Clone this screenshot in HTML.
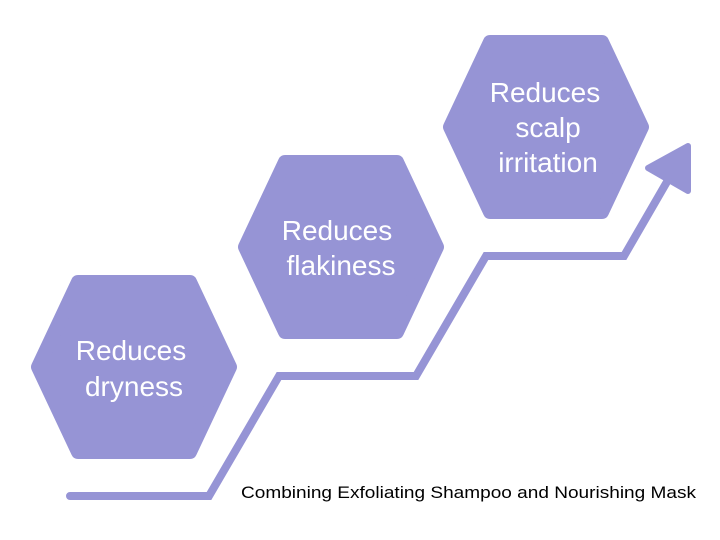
<!DOCTYPE html>
<html><head><style>
body{margin:0;background:#fff;}
svg{display:block;}
text{font-family:"Liberation Sans",sans-serif;}
</style></head><body>
<svg width="720" height="540" viewBox="0 0 720 540">
<g fill="#9694d5" stroke="#9694d5" stroke-width="14" stroke-linejoin="round">
<polygon points="78,282 190,282 230,367 190,452 78,452 38,367"/>
<polygon points="285,162 397,162 437,247 397,332 285,332 245,247"/>
<polygon points="490,42 602,42 642,127 602,212 490,212 450,127"/>
<polygon points="648,168 688,146 688,191" stroke-width="6"/>
</g>
<polyline points="70,496 209,496 279,376 416,376 486,256 624,256 668,180" fill="none" stroke="#9694d5" stroke-width="8" stroke-linecap="round" stroke-linejoin="miter"/>
<g fill="#fff" font-size="28" text-anchor="middle">
<text x="131" y="360">Reduces</text>
<text x="134" y="396">dryness</text>
<text x="337" y="240">Reduces</text>
<text x="341" y="275">flakiness</text>
<text x="545" y="102">Reduces</text>
<text x="548" y="137">scalp</text>
<text x="548" y="172">irritation</text>
</g>
<text x="241" y="498" font-size="17" textLength="455" lengthAdjust="spacingAndGlyphs" fill="#000">Combining Exfoliating Shampoo and Nourishing Mask</text>
</svg>
</body></html>
